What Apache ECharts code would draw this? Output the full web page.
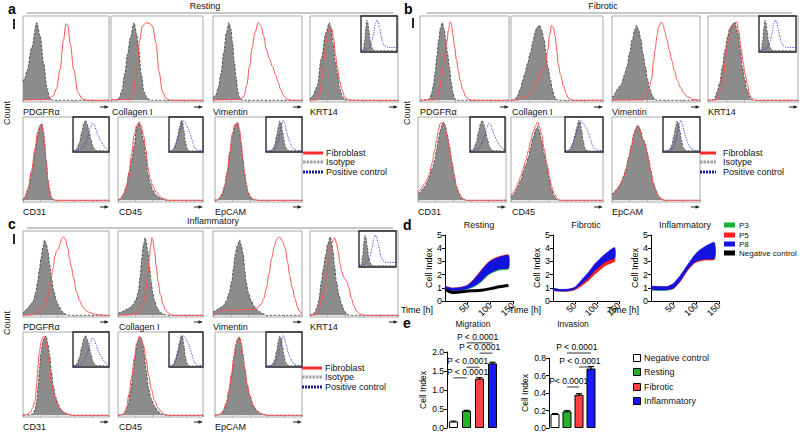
<!DOCTYPE html>
<html><head><meta charset="utf-8">
<script src="https://cdn.jsdelivr.net/npm/echarts@6/dist/echarts.min.js"></script>
<style>html,body{margin:0;padding:0;background:#fff}#c{width:800px;height:434px}</style>
</head><body><div id="c"></div>
<script>
const FONT = "'Liberation Sans', Arial, Helvetica, sans-serif";

// ---------- flow-cytometry histograms: [position on log axis 0-100, relative count 0-100] ----------
// a: Resting
const aPdgfIso = [[0,22],[2,26],[5,36],[10,62],[16,92],[20,76],[24,44],[28,14],[31,3],[35,0],[100,0]];
const aPdgfFib = [[0,0.5],[28,1],[35,5],[39,14],[43,36],[47,71],[50,91],[52,89],[55,67],[59,36],[64,9],[69,1.5],[75,0],[100,0]];
const aColIso = [[0,0],[6,0.5],[9,3],[12,12],[15,32],[18,55],[21,74],[25,92],[28,78],[30,62],[33,30],[36,10],[39,3],[43,0],[100,0]];
const aColFib = [[0,0.5],[20,1],[24,8],[28,35],[31,70],[34,88],[38,92],[42,91],[45,88],[49,68],[52,35],[56,10],[60,2],[65,0],[100,0]];
const aVimIso = [[0,3],[3,6],[6,15],[9,32],[12,56],[15,80],[18,92],[20,85],[22,68],[24,45],[26,27],[28,10],[30,3],[33,0],[100,0]];
const aVimFib = [[0,0.5],[30,1],[35,5],[38,18],[41,40],[44,62],[47,80],[51,92],[54,88],[57,76],[60,60],[63,50],[67,40],[70,31],[73,22],[76,13],[79,6],[83,1.5],[87,0],[100,0]];
const aKrtIso = [[0,1],[3,5],[8,16],[13,50],[18,80],[22,92],[24,86],[26,68],[29,45],[31,32],[34,13],[37,4],[40,1],[43,0],[100,0]];
const aKrtFib = [[0,0],[8,0.5],[11,8],[14,28],[16,48],[18,68],[21,83],[23,87],[25,84],[27,72],[29,54],[31,40],[34,22],[36,13],[40,3],[44,0.5],[50,0],[100,0]];
const aCd31Iso = [[0,1],[2,3],[6,12],[10,33],[14,58],[17,78],[20,90],[22,92],[24,82],[25,68],[27,48],[29,25],[31,12],[33,3],[36,0],[100,0]];
const aCd31Fib = [[0,1],[2,4],[6,15],[10,36],[14,62],[17,82],[20,90],[22,90],[24,80],[25,68],[27,45],[29,22],[31,10],[33,3],[36,0.5],[40,0],[100,0]];
const aCd45Iso = [[0,0.5],[2,1],[6,6],[10,17],[13,32],[16,48],[19,65],[22,88],[25,93],[27,86],[30,72],[33,52],[35,32],[38,20],[41,12],[45,6],[49,3],[57,0],[100,0]];
const aCd45Fib = [[0,0.5],[3,2],[7,8],[10,17],[13,34],[16,56],[19,78],[22,90],[25,94],[27,90],[30,78],[33,60],[35,40],[38,26],[41,17],[45,10],[49,5],[53,2],[60,0],[100,0]];
const aEpIso = [[0,0],[4,0.5],[6,3],[9,9],[11,16],[14,32],[17,56],[20,78],[23,90],[26,93],[28,84],[30,68],[32,48],[34,32],[36,18],[38,9],[41,3],[45,0.5],[50,0],[100,0]];
const aEpFib = [[0,0],[3,0.5],[5,3],[8,8],[11,17],[14,34],[17,58],[20,80],[23,91],[26,93],[28,86],[30,70],[32,50],[34,33],[36,19],[38,10],[41,4],[45,1],[50,0],[100,0]];
// b: Fibrotic
const bPdgfIso = [[0,0],[8,0.5],[11,2],[13,8],[15,17],[17,33],[19,52],[21,72],[23,86],[25,92],[27,85],[29,72],[31,55],[33,40],[35,22],[37,9],[39,2],[42,0],[100,0]];
const bPdgfFib = [[0,0],[16,0.5],[19,2],[22,13],[24,25],[26,40],[28,55],[30,68],[32,84],[34,93],[35,92],[37,78],[39,62],[41,48],[43,36],[45,24],[48,13],[51,5],[54,1.5],[58,0],[100,0]];
const bColIso = [[0,0],[2,0.5],[4,1],[7,5],[10,13],[13,24],[15,32],[18,44],[21,56],[24,70],[26,80],[28,86],[31,89],[33,84],[36,72],[38,56],[40,40],[43,24],[45,13],[47,5],[49,1],[52,0],[100,0]];
const bColFib = [[0,0],[8,0.5],[10,2],[15,4],[19,5],[23,11],[26,17],[29,24],[31,28],[34,36],[37,40],[40,60],[42,78],[44,89],[46,86],[48,76],[50,58],[51,44],[54,30],[57,17],[60,8],[62,3],[66,0.5],[70,0],[100,0]];
const bVimIso = [[0,4],[2,5],[4,9],[6,13],[9,17],[11,20],[14,30],[17,40],[20,56],[23,72],[26,84],[28,89],[30,84],[33,72],[35,56],[38,40],[40,26],[43,13],[46,5],[48,1],[52,0],[100,0]];
const bVimFib = [[0,0],[34,0.5],[36,1],[38,5],[40,9],[42,14],[45,25],[47,45],[49,60],[51,76],[53,87],[56,93],[58,90],[60,82],[62,73],[65,60],[68,47],[71,35],[74,24],[78,15],[81,9],[86,4],[92,1],[100,0]];
const bKrtIso = [[0,0],[4,0.5],[7,1],[10,10],[13,20],[16,40],[19,60],[22,76],[24,85],[27,90],[30,93],[32,84],[33,80],[36,60],[38,40],[41,24],[43,13],[46,5],[48,1],[52,0],[100,0]];
const bKrtFib = [[0,0],[8,0.5],[11,1],[14,13],[17,28],[20,52],[22,68],[25,80],[28,89],[30,91],[32,93],[34,82],[37,60],[39,45],[41,32],[44,18],[46,7],[49,2],[53,0],[100,0]];
const bCd31Iso = [[0,9],[2,9],[5,13],[8,17],[11,23],[13,29],[16,38],[19,48],[21,60],[23,72],[25,82],[27,90],[29,94],[31,90],[33,80],[36,64],[38,48],[41,32],[43,17],[46,9],[49,3],[52,1],[55,0],[100,0]];
const bCd31Fib = [[0,8],[2,12],[5,16],[8,21],[11,26],[13,32],[16,45],[19,60],[21,72],[23,83],[25,92],[27,93],[29,90],[31,86],[34,72],[36,60],[39,44],[41,30],[44,17],[47,8],[51,2],[55,0],[100,0]];
const bCd45Iso = [[0,4],[2,6],[4,9],[6,14],[8,18],[11,25],[13,33],[16,42],[19,52],[21,62],[24,75],[27,85],[29,89],[31,82],[33,72],[36,56],[39,40],[42,24],[44,13],[47,5],[49,1],[53,0],[100,0]];
const bCd45Fib = [[0,6],[2,9],[4,12],[6,16],[8,22],[11,30],[13,38],[16,48],[19,60],[21,70],[24,82],[27,90],[29,94],[31,88],[33,80],[36,62],[39,44],[42,28],[44,17],[47,8],[50,2],[54,0],[100,0]];
const bEpIso = [[0,7],[2,9],[5,13],[8,17],[11,23],[13,29],[16,38],[19,52],[22,66],[25,80],[27,86],[29,90],[31,88],[33,82],[35,74],[38,68],[40,58],[42,48],[44,36],[47,21],[50,12],[53,5],[56,2],[60,0],[100,0]];
const bEpFib = [[0,6],[2,8],[5,12],[8,16],[11,22],[13,28],[16,37],[19,50],[22,64],[25,78],[27,85],[29,88],[31,86],[33,80],[35,72],[38,65],[40,56],[42,46],[44,34],[47,20],[50,11],[53,5],[56,1],[60,0],[100,0]];
// c: Inflammatory
const cPdgfIso = [[0,2],[3,6],[6,9],[9,13],[12,17],[15,28],[17,40],[19,54],[21,68],[23,80],[25,89],[27,85],[29,76],[31,60],[33,44],[36,28],[39,17],[42,10],[45,5],[48,2],[52,0],[100,0]];
const cPdgfFib = [[0,0],[10,0.5],[12,1],[17,4],[20,6],[23,9],[26,13],[29,24],[32,38],[35,56],[37,70],[39,76],[41,78],[43,84],[45,91],[47,93],[49,91],[52,80],[54,68],[56,58],[59,44],[62,28],[66,17],[70,9],[74,5],[78,3],[84,1],[89,0.5],[95,0],[100,0]];
const cColIso = [[0,2],[4,4],[10,7],[14,9],[18,13],[21,18],[24,28],[26,45],[28,68],[30,84],[32,92],[33,88],[35,76],[37,58],[39,40],[41,26],[43,17],[46,9],[49,4],[53,1.5],[57,0],[100,0]];
const cColFib = [[0,0],[15,0.5],[18,1],[22,2],[25,4],[28,8],[31,17],[33,30],[35,48],[37,68],[38,80],[40,92],[41,90],[43,76],[45,58],[47,40],[50,24],[53,13],[56,6],[59,3],[62,1],[65,0],[100,0]];
const cVimIso = [[0,4],[2,5],[5,7],[8,9],[12,12],[15,17],[18,26],[21,40],[23,55],[25,72],[27,82],[30,89],[32,82],[34,72],[36,52],[37,40],[40,26],[43,17],[46,11],[49,7],[53,4],[56,2],[60,0],[100,0]];
const cVimFib = [[0,0],[3,1],[6,4],[9,6],[15,6],[22,6],[30,6.5],[38,7],[45,7],[50,9],[54,13],[57,20],[60,32],[63,50],[66,68],[69,82],[71,89],[73,92],[75,93],[78,88],[81,80],[84,62],[86,48],[89,33],[92,20],[95,10],[97,5],[100,1]];
const cKrtIso = [[0,0],[2,1],[5,3],[8,9],[10,18],[13,40],[15,54],[18,72],[20,84],[23,93],[25,84],[26,76],[28,58],[30,40],[33,24],[36,13],[39,5],[42,1],[45,0],[100,0]];
const cKrtFib = [[0,0],[6,0.5],[8,1],[10,5],[13,17],[16,30],[19,48],[21,62],[23,76],[25,86],[27,91],[28,92],[30,86],[32,76],[34,62],[36,52],[38,46],[40,43],[42,40],[44,33],[47,20],[50,11],[53,5],[56,2],[58,1],[62,0],[100,0]];
const cCd31Iso = [[0,0],[8,0.5],[12,2],[14,7],[16,17],[18,38],[19,56],[21,75],[23,88],[25,94],[27,95],[29,86],[31,72],[33,52],[35,36],[38,22],[41,13],[44,7],[48,3],[53,1],[58,0],[100,0]];
const cCd31Fib = [[0,0.5],[4,1],[8,3],[11,8],[14,17],[16,38],[17,56],[19,75],[21,88],[23,94],[24,95],[26,90],[28,80],[30,64],[33,40],[36,25],[39,15],[43,8],[47,4],[52,1.5],[58,0],[100,0]];
const cCd45Iso = [[0,0],[3,0.5],[6,1],[9,5],[12,13],[15,30],[18,52],[20,70],[23,88],[25,93],[27,94],[29,86],[31,72],[33,54],[36,32],[39,20],[43,11],[47,5],[50,2],[53,1],[58,0],[100,0]];
const cCd45Fib = [[0,0],[4,0.5],[7,2],[10,9],[13,26],[16,46],[19,68],[22,86],[25,95],[27,92],[30,84],[33,68],[36,48],[39,32],[43,18],[47,9],[51,4],[55,1],[60,0],[100,0]];
const cEpIso = [[0,0],[3,0.5],[6,1],[9,4],[13,13],[16,28],[19,48],[22,70],[24,84],[26,91],[28,94],[30,86],[32,72],[34,56],[37,36],[40,23],[44,11],[48,5],[52,2],[56,1],[60,0],[100,0]];
const cEpFib = [[0,0],[3,0.5],[6,1.5],[9,5],[13,15],[16,30],[19,50],[22,72],[24,85],[26,92],[28,94],[30,87],[32,74],[34,57],[37,37],[40,24],[44,12],[48,6],[52,2.5],[56,1],[62,0],[100,0]];
// insets: isotype vs positive control
const krtInIso = [[0,0],[3,1],[7,8],[10,30],[13,65],[16,88],[19,80],[22,58],[26,28],[30,10],[34,3],[40,0.5],[100,0]];
const krtInPos = [[0,3],[10,3],[18,6],[24,12],[30,25],[35,50],[40,78],[44,88],[48,82],[52,65],[56,42],[60,25],[65,15],[72,11],[82,10],[100,10]];
const cd31InIso = [[0,0],[5,2],[10,6],[18,25],[24,55],[30,80],[35,90],[40,78],[45,55],[50,35],[55,15],[60,5],[66,1],[100,0]];
const cd31InPos = [[0,0],[10,1],[20,4],[28,10],[35,25],[42,45],[48,68],[54,82],[59,78],[64,62],[70,45],[78,28],[86,14],[94,6],[100,3]];
const cd45InIso = [[0,0],[8,1],[14,6],[20,22],[26,45],[31,70],[36,90],[40,85],[44,60],[48,30],[52,10],[56,3],[62,0],[100,0]];
const cd45InPos = [[0,0],[8,1],[14,6],[20,18],[26,38],[32,60],[37,78],[42,90],[47,84],[52,75],[57,65],[62,52],[67,35],[72,18],[77,7],[85,2],[100,0]];
const epInIso = [[0,0],[12,1],[18,5],[24,18],[29,42],[34,70],[38,88],[42,82],[46,58],[50,32],[54,12],[58,4],[64,0.5],[100,0]];
const epInPos = [[0,0],[15,0.5],[22,3],[28,12],[34,30],[39,55],[44,80],[48,90],[52,80],[56,62],[61,42],[67,24],[73,11],[80,4],[88,1],[100,0]];

const markerNames = ['PDGFRα','Collagen I','Vimentin','KRT14','CD31','CD45','EpCAM'];
const conditionNames = ['Resting','Fibrotic','Inflammatory'];
const histLegendNames = ['Fibroblast','Isotype','Positive control'];

// ---------- d: real-time cell index (band = lower/upper edge) ----------
const timeH = [1,15,35,50,65,80,95,105,120,140];
const restP3Lo = [0.80,0.78,0.82,0.92,1.10,1.45,1.95,2.15,2.35,2.42];
const restP3Hi = [1.00,0.92,0.95,1.05,1.40,1.90,2.40,2.65,2.85,2.95];
const restP5Lo = [0.84,0.80,0.85,1.00,1.30,1.75,2.30,2.55,2.75,2.85];
const restP5Hi = [1.10,0.98,1.05,1.22,1.71,2.34,2.93,3.17,3.38,3.49];
const restP8Lo = [0.82,0.79,0.83,0.95,1.15,1.52,2.02,2.22,2.42,2.50];
const restP8Hi = [1.08,0.97,1.03,1.18,1.65,2.28,2.87,3.10,3.32,3.44];
const restNeg  = [0.88,0.65,0.70,0.76,0.78,0.82,0.90,0.97,1.08,1.17];
const fibrP3Lo = [0.82,0.76,0.77,0.90,1.25,1.70,2.25,2.55,2.95,3.20];
const fibrP3Hi = [0.95,0.86,0.88,1.02,1.50,2.00,2.65,3.00,3.45,3.85];
const fibrP5Lo = [0.80,0.74,0.75,0.85,1.15,1.53,2.02,2.30,2.70,3.00];
const fibrP5Hi = [0.92,0.86,0.88,1.00,1.40,1.85,2.40,2.70,3.05,3.30];
const fibrP8Lo = [0.82,0.76,0.77,0.90,1.30,1.75,2.30,2.60,3.00,3.25];
const fibrP8Hi = [0.97,0.88,0.90,1.05,1.60,2.14,2.82,3.15,3.60,4.05];
const inflP3Lo = [0.83,0.80,0.82,0.95,1.55,2.35,2.95,3.15,3.35,3.50];
const inflP3Hi = [1.00,0.98,0.98,1.15,1.75,2.55,3.20,3.50,3.80,4.00];
const inflP5Lo = [0.88,0.88,0.88,0.95,1.50,2.28,2.85,3.00,3.10,3.15];
const inflP5Hi = [1.08,1.08,1.08,1.25,1.85,2.60,3.25,3.60,3.95,4.20];
const inflP8Lo = [0.87,0.84,0.84,0.98,1.55,2.35,2.92,3.08,3.18,3.22];
const inflP8Hi = [1.10,1.10,1.08,1.35,1.95,2.70,3.42,3.80,4.15,4.44];
const passageNames = ['P3','P5','P8','Negative control'];
const timeTicks = [0,50,100,150];
const cellIndexTicks = [0,1,2,3,4,5];

// ---------- e: migration / invasion ----------
const groupNames = ['Negative control','Resting','Fibrotic','Inflammatory'];
const migMean = [0.17,0.45,1.30,1.70];
const migErr  = [0.01,0.015,0.025,0.03];
const invMean = [0.16,0.19,0.38,0.68];
const invErr  = [0.005,0.008,0.012,0.022];
// [from group, to group, bracket height (cell index), label]
const migPvals = [[1,3,2.24,'P < 0.0001'],[2,3,1.97,'P < 0.0001'],[1,2,1.60,'P < 0.0001'],[0,1,1.32,'P < 0.0001']];
const invPvals = [[1,3,0.857,'P < 0.0001'],[2,3,0.697,'P < 0.0001'],[1,2,0.469,'P< 0.0001']];

// ================= build =================
const histIso = [
  [aPdgfIso,aColIso,aVimIso,aKrtIso,aCd31Iso,aCd45Iso,aEpIso],
  [bPdgfIso,bColIso,bVimIso,bKrtIso,bCd31Iso,bCd45Iso,bEpIso],
  [cPdgfIso,cColIso,cVimIso,cKrtIso,cCd31Iso,cCd45Iso,cEpIso]];
const histFib = [
  [aPdgfFib,aColFib,aVimFib,aKrtFib,aCd31Fib,aCd45Fib,aEpFib],
  [bPdgfFib,bColFib,bVimFib,bKrtFib,bCd31Fib,bCd45Fib,bEpFib],
  [cPdgfFib,cColFib,cVimFib,cKrtFib,cCd31Fib,cCd45Fib,cEpFib]];
const insetIso = [krtInIso,cd31InIso,cd45InIso,epInIso];
const insetPos = [krtInPos,cd31InPos,cd45InPos,epInPos];

const histLayout = [
  { letter:'a', letterXY:[8,9], titleXY:[205,6], rule:[27,393,13], count:[7,113], mark:[13,19],
    boxes:[[23,16,86,86],[111,16,92,86],[213,16,89,86],[310,16,88,86],[23,117,86,85],[118,117,85,85],[215,117,87,85]],
    insets:[[361,16,36,36],[73,117,36,35],[169,117,34,35],[266,117,36,35]],
    leg:{x0:303,x1:323,tx:326,ys:[153,162,172]} },
  { letter:'b', letterXY:[404,9], titleXY:[603,6], rule:[427,792,13], count:[407,113], mark:[412,18],
    boxes:[[420,16,89,86],[511,16,92,86],[612,16,88,86],[708,16,90,86],[418,117,88,85],[511,117,92,85],[612,117,88,85]],
    insets:[[759,16,37,36],[470,117,35,35],[565,117,38,35],[663,117,37,35]],
    leg:{x0:700,x1:716,tx:723,ys:[153,162,172]} },
  { letter:'c', letterXY:[8,224], titleXY:[213,221], rule:[27,393,228], count:[7,323], mark:[13,234],
    boxes:[[23,231,86,86],[118,231,85,86],[213,231,89,86],[310,231,88,86],[23,332,86,85],[118,332,85,85],[215,332,87,85]],
    insets:[[359,231,37,36],[73,332,36,35],[169,332,34,35],[266,332,36,35]],
    leg:{x0:302,x1:322,tx:325,ys:[368,377,387]} }
];

const grids=[], xAxes=[], yAxes=[], series=[], g=[];
function addGrid(box, gridExtra, xa, ya){
  grids.push(Object.assign({left:box[0], top:box[1], width:box[2], height:box[3], containLabel:false, outerBoundsMode:'none'}, gridExtra));
  const gi = grids.length-1;
  xAxes.push(Object.assign({gridIndex:gi}, xa));
  yAxes.push(Object.assign({gridIndex:gi}, ya));
  return gi;
}
function txt(text, x, y, opt){
  opt = opt || {};
  const al = opt.align || 'left', va = opt.va || 'middle';
  const el = {type:'text', x:x, y:y, silent:true, z:50,
    style:{text:text, fontSize:opt.size||9, fontFamily:FONT, fontWeight:opt.weight||'normal', fill:opt.color||'#111',
      align:al, verticalAlign:va, textAlign:al, textVerticalAlign:va}};
  if (opt.rot) el.rotation = opt.rot;
  g.push(el);
}
function hline(x1,y1,x2,y2,stroke,w,dash){
  g.push({type:'line', silent:true, z:50, shape:{x1,y1,x2,y2}, style:{stroke:stroke, lineWidth:w, lineDash:dash||null}});
}
function histX(){ return {type:'value', min:0, max:100, interval:20, axisLine:{show:false}, axisLabel:{show:false},
  axisTick:{show:true, inside:false, length:2, lineStyle:{color:'#888', width:0.6}}, splitLine:{show:false}}; }
function histY(min){ return {type:'value', min:min, max:100, axisLine:{show:false}, axisLabel:{show:false}, axisTick:{show:false}, splitLine:{show:false}}; }
const isoLine = {color:'#333', width:0.8, type:[2.5,1.5]};

histLayout.forEach((L, p) => {
  txt(L.letter, L.letterXY[0], L.letterXY[1], {size:14, weight:'bold', color:'#000'});
  txt(conditionNames[p], L.titleXY[0], L.titleXY[1], {align:'center', size:9});
  hline(L.rule[0], L.rule[2], L.rule[1], L.rule[2], '#b5b5b5', 1.5);
  txt('Count', L.count[0], L.count[1], {align:'center', size:9, rot:Math.PI/2});
  g.push({type:'rect', silent:true, z:50, shape:{x:L.mark[0], y:L.mark[1], width:2, height:10}, style:{fill:'#2a2a2a'}});
  L.boxes.forEach((b, i) => {
    const gi = addGrid(b, {show:true, borderColor:'#a8a8a8', borderWidth:1, backgroundColor:'transparent'}, histX(), histY(-2));
    series.push({type:'line', xAxisIndex:gi, yAxisIndex:gi, data:histIso[p][i], smooth:0.35, smoothMonotone:'x', showSymbol:false, silent:true,
      lineStyle:isoLine, areaStyle:{color:'#8c8c8c', opacity:1}, z:2});
    series.push({type:'line', xAxisIndex:gi, yAxisIndex:gi, data:histFib[p][i], smooth:0.35, smoothMonotone:'x', showSymbol:false, silent:true,
      lineStyle:{color:'#ff5252', width:1}, z:3});
    txt(markerNames[i], b[0]+(i===1||i===5?1:0), b[1]+b[3]+10, {size:9});
    // axis arrow under the right end of each histogram
    const r = b[0]+b[2], yb = b[1]+b[3]+5;
    hline(r-9, yb, r-4, yb, '#222', 1);
    g.push({type:'polygon', silent:true, z:50, shape:{points:[[r-4.5,yb-1.8],[r,yb],[r-4.5,yb+1.8]]}, style:{fill:'#222'}});
  });
  L.insets.forEach((b, k) => {
    const gi = addGrid(b, {show:true, borderColor:'#1a1a1a', borderWidth:1.3, backgroundColor:'#fff', z:6},
      {type:'value', min:0, max:100, show:false}, histY(-3));
    series.push({type:'line', xAxisIndex:gi, yAxisIndex:gi, data:insetIso[k], smooth:0.35, smoothMonotone:'x', showSymbol:false, silent:true,
      lineStyle:{color:'#333', width:0.7, type:[2,1.5]}, areaStyle:{color:'#8c8c8c', opacity:1}, z:7});
    series.push({type:'line', xAxisIndex:gi, yAxisIndex:gi, data:insetPos[k], smooth:0.35, smoothMonotone:'x', showSymbol:false, silent:true,
      lineStyle:{color:'#3a3ad6', width:0.9, type:[1.2,1.2]}, z:8});
  });
  const lg = L.leg;
  hline(lg.x0, lg.ys[0], lg.x1, lg.ys[0], '#ff2a2a', 3);
  hline(lg.x0, lg.ys[1], lg.x1, lg.ys[1], '#a0a0a0', 3, [2.5,1]);
  hline(lg.x0, lg.ys[2], lg.x1, lg.ys[2], '#1c1c96', 3, [2,1]);
  histLegendNames.forEach((n, k) => txt(n, lg.tx, lg.ys[k], {size:9}));
});

// ---------- d ----------
const dPanels = [
  {lo:[restP3Lo,restP5Lo,restP8Lo], hi:[restP3Hi,restP5Hi,restP8Hi], neg:restNeg, box:[445,235,68,66]},
  {lo:[fibrP3Lo,fibrP5Lo,fibrP8Lo], hi:[fibrP3Hi,fibrP5Hi,fibrP8Hi], neg:null,    box:[553,235,66,66]},
  {lo:[inflP3Lo,inflP5Lo,inflP8Lo], hi:[inflP3Hi,inflP5Hi,inflP8Hi], neg:null,    box:[651,235,68,66]}
];
const passageColors = ['#17b238','#ff1f1f','#1313e0','#000000'];
txt('d', 403, 225, {size:14, weight:'bold', color:'#000'});
function bandItem(color){
  return (params, api) => {
    if (params.dataIndexInside !== 0) return null;
    const n = params.dataInsideLength, up = [], dn = [];
    for (let m=0; m<n; m++){
      up.push(api.coord([api.value(0,m), api.value(2,m)]));
      dn.push(api.coord([api.value(0,m), api.value(1,m)]));
    }
    return {type:'polygon', shape:{points:up.concat(dn.reverse()), smooth:0.2}, style:{fill:color, stroke:color, lineWidth:0.6}};
  };
}
dPanels.forEach((P, k) => {
  const gi = addGrid(P.box, {show:false},
    {type:'value', min:timeTicks[0], max:timeTicks[timeTicks.length-1], interval:timeTicks[1]-timeTicks[0],
     axisLine:{show:true, lineStyle:{color:'#000', width:1}}, axisTick:{show:true, length:3, lineStyle:{color:'#000'}},
     axisLabel:{rotate:45, fontSize:9, fontFamily:FONT, color:'#000', margin:3, showMinLabel:false}, splitLine:{show:false},
     name:'Time [h]', nameLocation:'start', nameGap:4, nameTextStyle:{fontSize:9, fontFamily:FONT, color:'#000', verticalAlign:'top', padding:[4,0,0,0]}},
    {type:'value', min:cellIndexTicks[0], max:cellIndexTicks[cellIndexTicks.length-1], interval:1,
     axisLine:{show:true, lineStyle:{color:'#000', width:1}}, axisTick:{show:true, length:3, lineStyle:{color:'#000'}},
     axisLabel:{fontSize:9, fontFamily:FONT, color:'#000', margin:3}, splitLine:{show:false},
     name:'Cell Index', nameLocation:'middle', nameGap:11, nameTextStyle:{fontSize:9, fontFamily:FONT, color:'#000'}});
  txt(conditionNames[k], P.box[0]+P.box[2]/2, 225, {align:'center', size:9});
  for (let j=0; j<3; j++){
    series.push({type:'custom', xAxisIndex:gi, yAxisIndex:gi, silent:true, z:2+j*0.1, clip:false,
      data:timeH.map((t,m)=>[t, P.lo[j][m], P.hi[j][m]]), renderItem:bandItem(passageColors[j])});
  }
  if (P.neg){
    series.push({type:'line', xAxisIndex:gi, yAxisIndex:gi, data:timeH.map((t,m)=>[t,P.neg[m]]),
      smooth:0.3, showSymbol:false, silent:true, lineStyle:{color:'#000', width:3}, z:3});
  }
});
const dLegY = [225,235,244,253];
passageNames.forEach((n, j) => {
  g.push({type:'rect', silent:true, z:50, shape:{x:724, y:dLegY[j]-2.5, width:11, height:5}, style:{fill:passageColors[j]}});
  txt(n, 739, dLegY[j], {size:8});
});

// ---------- e ----------
const groupColors = ['#ffffff','#22b32a','#ff4040','#1a1aff'];
txt('e', 403, 323, {size:14, weight:'bold', color:'#000'});
const ePanels = [
  {title:'Migration', mean:migMean, err:migErr, pv:migPvals, max:2.0, step:0.5, box:[447,352,52,76], textAt:[1.85,2.0,1.08,1.08]},
  {title:'Invasion',  mean:invMean, err:invErr, pv:invPvals, max:0.8, step:0.2, box:[549,358,48,70], textAt:[1.82,2.08,1.14]}
];
ePanels.forEach(E => {
  const gi = addGrid(E.box, {show:false},
    {type:'category', data:groupNames, boundaryGap:true, axisLine:{show:false}, axisTick:{show:false}, axisLabel:{show:false}},
    {type:'value', min:0, max:E.max, interval:E.step,
     axisLine:{show:true, lineStyle:{color:'#000', width:1}}, axisTick:{show:true, length:3, lineStyle:{color:'#000'}},
     axisLabel:{fontSize:8.5, fontFamily:FONT, color:'#000', margin:3, formatter:v=>v.toFixed(1)}, splitLine:{show:false},
     name:'Cell Index', nameLocation:'middle', nameGap:20, nameTextStyle:{fontSize:8.5, fontFamily:FONT, color:'#000'}});
  txt(E.title, E.box[0]+E.box[2]/2, 324, {align:'center', size:8.5});
  series.push({type:'bar', xAxisIndex:gi, yAxisIndex:gi, barWidth:9, silent:true,
    data:E.mean.map((v,i)=>({value:v, itemStyle:{color:groupColors[i], borderColor:'#000', borderWidth:1}})), z:2});
  series.push({type:'custom', xAxisIndex:gi, yAxisIndex:gi, silent:true, z:4,
    data:E.mean.map((v,i)=>[i, v, E.err[i]]),
    renderItem:(params, api)=>{
      const i=api.value(0), m=api.value(1), e=api.value(2);
      const top=api.coord([i,m+e]), bot=api.coord([i,m-e]);
      return {type:'group', children:[
        {type:'line', shape:{x1:top[0],y1:top[1],x2:bot[0],y2:bot[1]}, style:{stroke:'#000', lineWidth:1.2}},
        {type:'line', shape:{x1:top[0]-3,y1:top[1],x2:top[0]+3,y2:top[1]}, style:{stroke:'#000', lineWidth:1.2}}]};
    }});
  series.push({type:'custom', xAxisIndex:gi, yAxisIndex:gi, silent:true, z:5, clip:false,
    data:E.pv.map(a=>[a[0], a[2]]),
    renderItem:(params, api)=>{
      const a = E.pv[params.dataIndex];
      const p0=api.coord([a[0],a[2]]), p1=api.coord([a[1],a[2]]);
      const bw = api.size([1,0])[0];
      const tx = api.coord([0,a[2]])[0] + E.textAt[params.dataIndex]*bw;
      return {type:'group', children:[
        {type:'line', shape:{x1:p0[0],y1:p0[1],x2:p1[0],y2:p1[1]}, style:{stroke:'#333', lineWidth:1}},
        {type:'text', x:tx, y:p0[1]-1.5, style:{text:a[3], fontSize:8.5, fontFamily:FONT, fill:'#000',
          align:'center', verticalAlign:'bottom', textAlign:'center', textVerticalAlign:'bottom'}}]};
    }});
});
const eLegY = [358,372,387,401];
groupNames.forEach((n, j) => {
  g.push({type:'rect', silent:true, z:50, shape:{x:633.5, y:eLegY[j]-3.5, width:7, height:7}, style:{fill:groupColors[j], stroke:'#000', lineWidth:1}});
  txt(n, 644, eLegY[j], {size:9});
});

const chart = echarts.init(document.getElementById('c'), null, {renderer:'svg', width:800, height:434});
chart.setOption({
  animation:false,
  backgroundColor:'#fff',
  textStyle:{fontFamily:FONT},
  grid:grids, xAxis:xAxes, yAxis:yAxes, series:series,
  graphic:{elements:g}
});
</script></body></html>
